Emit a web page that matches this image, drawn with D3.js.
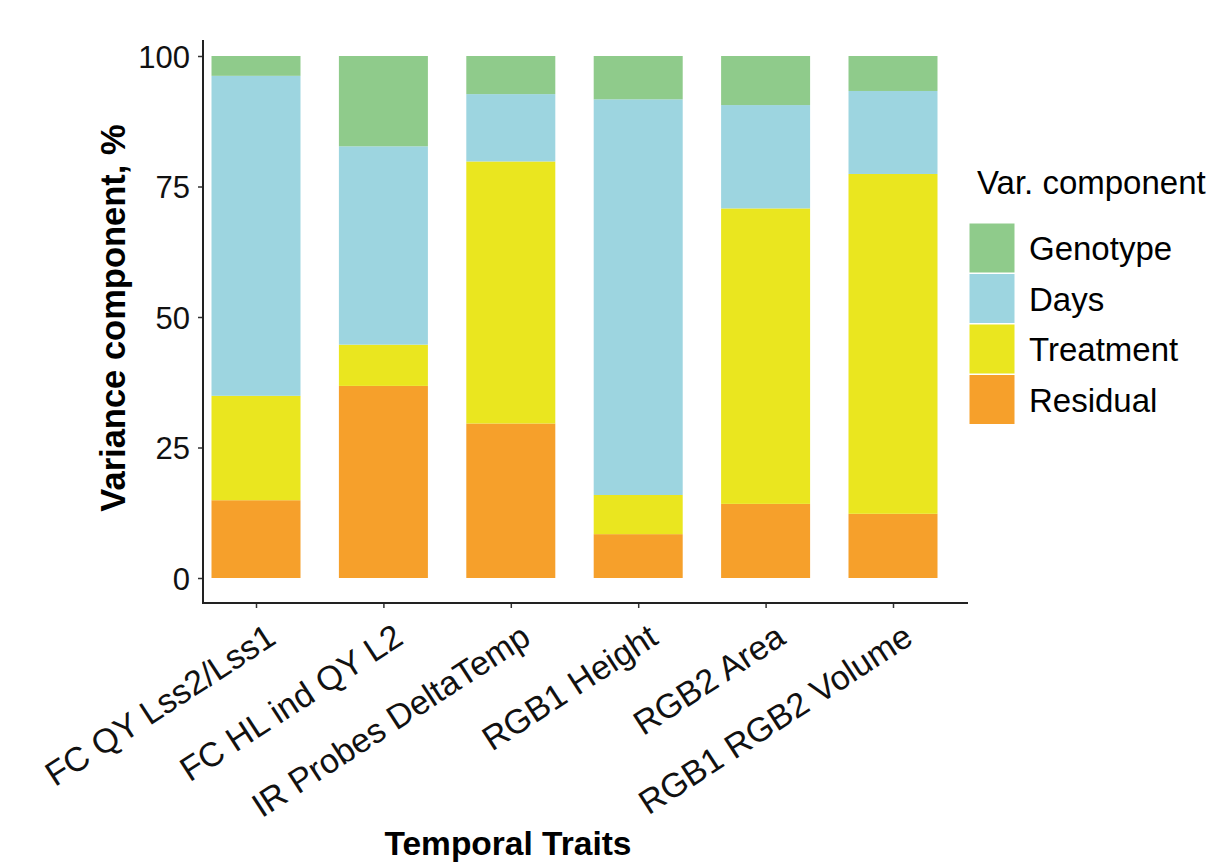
<!DOCTYPE html>
<html><head><meta charset="utf-8">
<script src="https://cdn.jsdelivr.net/npm/d3@7"></script>
<style>body{margin:0;background:#fff}svg{display:block}text{font-family:"Liberation Sans",Arial,sans-serif}</style>
</head><body><svg id="c" width="1212" height="865"></svg>
<script>
const categories = ["FC QY Lss2/Lss1","FC HL ind QY L2","IR Probes DeltaTemp","RGB1 Height","RGB2 Area","RGB1 RGB2 Volume"];
const components = ["Residual","Treatment","Days","Genotype"]; // stacking order bottom->top
const legendOrder = ["Genotype","Days","Treatment","Residual"];
const residual  = [14.9, 36.8, 29.6, 8.4, 14.2, 12.3];
const treatment = [20.0, 7.9, 50.2, 7.5, 56.6, 65.1];
const days      = [61.3, 38.0, 12.9, 75.8, 19.8, 15.9];
const genotype  = [3.8, 17.3, 7.3, 8.3, 9.4, 6.7];
const yTicks = [0, 25, 50, 75, 100];
const colors = {Genotype:"#8fcb8b", Days:"#9dd5e0", Treatment:"#eae61f", Residual:"#f6a02b"};

const rows = categories.map((c,i)=>({cat:c, Residual:residual[i], Treatment:treatment[i], Days:days[i], Genotype:genotype[i]}));
const svg = d3.select("#c");
const y = d3.scaleLinear().domain([0,100]).range([578,56]);
const x = d3.scalePoint().domain(categories).range([256,893]);
const bw = 89;
const stack = d3.stack().keys(components)(rows);
const FONT = "'Liberation Sans',Arial,sans-serif";

svg.append("g").selectAll("g").data(stack).join("g")
  .attr("fill", d=>colors[d.key])
  .selectAll("rect").data(d=>d).join("rect")
  .attr("x", d=>x(d.data.cat)-bw/2).attr("width", bw)
  .attr("y", d=>y(d[1])).attr("height", d=>y(d[0])-y(d[1]));

// axes
const gy = svg.append("g").attr("transform","translate(203,0)")
  .call(d3.axisLeft(y).tickValues(yTicks).tickSize(5).tickPadding(8));
gy.select(".domain").remove();
gy.selectAll(".tick line").attr("stroke","#333").attr("stroke-width",1.5);
gy.selectAll(".tick text").attr("font-size",31).attr("fill","#111").attr("font-family",FONT).attr("dy","0.36em");
svg.append("line").attr("x1",203).attr("x2",203).attr("y1",40).attr("y2",603.5).attr("stroke","#222").attr("stroke-width",2);

const gx = svg.append("g").attr("transform","translate(0,603)")
  .call(d3.axisBottom(x).tickSize(5).tickPadding(4));
gx.select(".domain").remove();
gx.selectAll(".tick line").attr("stroke","#333").attr("stroke-width",1.5);
gx.selectAll(".tick text").attr("font-size",34).attr("fill","#111")
  .attr("font-family",FONT)
  .attr("text-anchor","end").attr("y",0).attr("dy","0.72em")
  .attr("transform","translate(8,19) rotate(-33)");
svg.append("line").attr("x1",202).attr("x2",968).attr("y1",603).attr("y2",603).attr("stroke","#222").attr("stroke-width",2);

svg.append("text").attr("transform","translate(125,318) rotate(-90)").attr("text-anchor","middle")
  .attr("font-size",34.5).attr("font-weight","bold").attr("fill","#000").text("Variance component, %");
svg.append("text").attr("x",508).attr("y",855).attr("text-anchor","middle")
  .attr("font-size",33.5).attr("font-weight","bold").attr("fill","#000").text("Temporal Traits");

// legend
svg.append("text").attr("x",977).attr("y",194).attr("font-size",33).attr("fill","#000").text("Var. component");
const lg = svg.append("g").selectAll("g").data(legendOrder).join("g")
  .attr("transform",(d,i)=>`translate(969,${223+i*50.5})`);
lg.append("rect").attr("width",46).attr("height",50).attr("fill",d=>colors[d]).attr("stroke","#fff").attr("stroke-width",1);
lg.append("text").attr("x",60).attr("y",37).attr("font-size",33).attr("fill","#000").text(d=>d);
</script></body></html>
